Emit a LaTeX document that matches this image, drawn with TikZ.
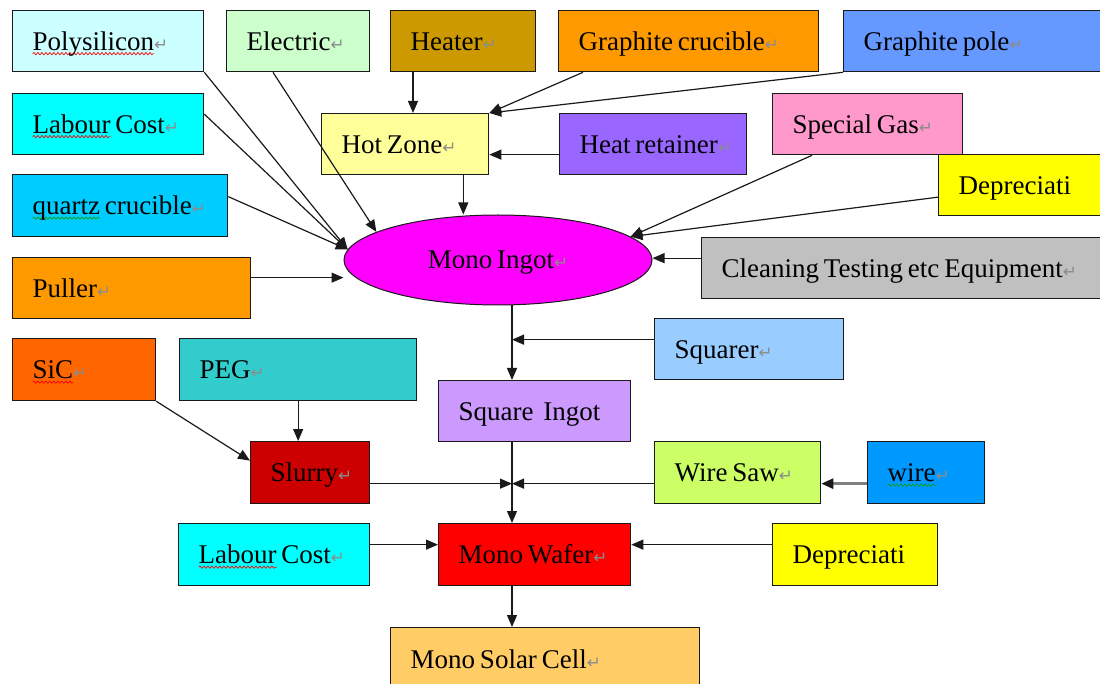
\documentclass[tikz,border=0pt]{standalone}
\usepackage{fontspec}
\setmainfont{Liberation Serif}[WordSpace=0.7]
\newfontfamily\retfont{DejaVu Sans}[Scale=0.62]
\usetikzlibrary{arrows.meta,shapes.geometric,decorations.pathmorphing}
\definecolor{bordc}{HTML}{1A1A1A}
\definecolor{retgray}{HTML}{8C8C8C}
\definecolor{wgreen}{HTML}{10A010}
\definecolor{cPoly}{HTML}{CCFFFF}
\definecolor{cElec}{HTML}{CCFFCC}
\definecolor{cHeater}{HTML}{CC9900}
\definecolor{cOrange}{HTML}{FF9900}
\definecolor{cPole}{HTML}{6699FF}
\definecolor{cCyan}{HTML}{00FFFF}
\definecolor{cHot}{HTML}{FFFF99}
\definecolor{cRet}{HTML}{9966FF}
\definecolor{cGas}{HTML}{FF99CC}
\definecolor{cQuartz}{HTML}{00CCFF}
\definecolor{cYel}{HTML}{FFFF00}
\definecolor{cMag}{HTML}{FF00FF}
\definecolor{cGray}{HTML}{C0C0C0}
\definecolor{cSiC}{HTML}{FF6600}
\definecolor{cPEG}{HTML}{33CCCC}
\definecolor{cSquarer}{HTML}{99CCFF}
\definecolor{cSqi}{HTML}{CC99FF}
\definecolor{cSlurry}{HTML}{CC0000}
\definecolor{cWsaw}{HTML}{CCFF66}
\definecolor{cWire}{HTML}{0099FF}
\definecolor{cWafer}{HTML}{FF0000}
\definecolor{cCell}{HTML}{FFCC66}
\newlength\wvylen
\newcommand\parmk{{\retfont\textcolor{retgray}{\char"21B5}}}
\newcommand\wvy[2]{\settowidth\wvylen{#2}\rlap{\tikz[overlay]\draw[wavyline,#1] (0pt,-3.5pt) -- (\wvylen,-3.5pt);}#2}
\tikzset{
  wavyline/.style={decorate, decoration={snake, amplitude=1.1pt, segment length=4pt}, line width=0.7pt},
  box/.style={draw=bordc, line width=1.3pt, anchor=north west, inner xsep=20pt, inner ysep=0pt,
    text height=18pt, text depth=0pt, minimum height=61pt,
    font=\fontsize{27}{32}\selectfont, text=black,
    execute at begin node={\spaceskip=0.18em\xspaceskip=0.18em\relax\hbox\bgroup}, execute at end node={\egroup}},
  arr/.style={line width=1.2pt, draw=bordc, -{Triangle[length=12pt,width=10pt]}},
  arrg/.style={line width=2.6pt, draw=gray, -{Triangle[length=12pt,width=10pt,fill=bordc,color=bordc]}}
}
\begin{document}
\begin{tikzpicture}[x=1pt,y=-1pt]
\useasboundingbox (0,0) rectangle (1100,684);
\clip (0,0) rectangle (1100,684);
\fill[white] (0,0) rectangle (1100,684);
% boxes
\node[box, fill=cPoly, text width=151pt] (poly) at (12,10) {\wvy{red}{Polysilicon}\parmk};
\node[box, fill=cElec, text width=103pt] (elec) at (226,10) {Electric\parmk};
\node[box, fill=cHeater, text width=105pt] (heater) at (390,10) {Heater\parmk};
\node[box, fill=cOrange, text width=220pt] (gcru) at (558,10) {Graphite crucible\parmk};
\node[box, fill=cPole, text width=230pt] (gpole) at (843,10) {Graphite pole\parmk};
\node[box, fill=cCyan, text width=151pt] (lab1) at (12,93) {\wvy{red}{Labour}~Cost\parmk};
\node[box, fill=cHot, text width=127pt] (hot) at (321,113) {Hot Zone\parmk};
\node[box, fill=cRet, text width=147pt] (hret) at (559,113) {Heat retainer\parmk};
\node[box, fill=cGas, text width=150pt] (gas) at (772,93) {Special Gas\parmk};
\node[box, fill=cQuartz, text width=175pt, minimum height=62pt] (quartz) at (12,174) {\wvy{wgreen}{quartz}~crucible\parmk};
\node[box, fill=cYel, text width=132pt] (dep1) at (938,154) {Depreciati};
\node[ellipse, draw=bordc, line width=1pt, fill=cMag, minimum width=308pt, minimum height=90pt, inner sep=0pt,
  text height=18pt, text depth=0pt, font=\fontsize{27}{32}\selectfont] (ingot) at (498,260) {Mono Ingot\parmk};
\node[box, fill=cGray, text width=369pt] (clean) at (701,237) {Cleaning Testing etc Equipment\parmk};
\node[box, fill=cOrange, text width=198pt] (puller) at (12,257) {Puller\parmk};
\node[box, fill=cSiC, text width=103pt, minimum height=62pt] (sic) at (12,338) {\wvy{red}{SiC}\parmk};
\node[box, fill=cPEG, text width=197pt, minimum height=62pt] (peg) at (179,338) {PEG\parmk};
\node[box, fill=cSquarer, text width=149pt] (squarer) at (654,318) {Squarer\parmk};
\node[box, fill=cSqi, text width=152pt] (sqi) at (438,380) {Square~ Ingot};
\node[box, fill=cSlurry, text width=79pt, minimum height=62pt] (slurry) at (250,441) {Slurry\parmk};
\node[box, fill=cWsaw, text width=126pt, minimum height=62pt] (wsaw) at (654,441) {Wire Saw\parmk};
\node[box, fill=cWire, text width=77pt, minimum height=62pt] (wire) at (867,441) {\wvy{wgreen}{wire}\parmk};
\node[box, fill=cCyan, text width=151pt, minimum height=62pt] (lab2) at (178,523) {\wvy{red}{Labour}~Cost\parmk};
\node[box, fill=cWafer, text width=152pt, minimum height=62pt] (wafer) at (438,523) {Mono Wafer\parmk};
\node[box, fill=cYel, text width=125pt, minimum height=62pt] (dep2) at (772,523) {Depreciati};
\node[box, fill=cCell, text width=269pt, minimum height=64pt] (cell) at (390,627) {Mono Solar Cell\parmk};
% spine
\coordinate (sp) at (512,0);
% connectors
\draw[arr] (poly.south east) -- (ingot.176);
\draw[arr] ([yshift=10pt]lab1.east) -- (ingot.176);
\draw[arr] ([yshift=9pt]quartz.east) -- (ingot.176);
\draw[arr] ([xshift=47pt]elec.south west) -- (ingot.167);
\draw[arr] ([yshift=10.5pt]puller.east) -- ([yshift=10.5pt]puller.east -| ingot.west);
\draw[arr] ([xshift=23pt]heater.south west) -- ([xshift=23pt]heater.south west |- hot.north);
\draw[arr] ([xshift=25pt]gcru.south west) -- (hot.north east);
\draw[arr] (gpole.south west) -- (hot.north east);
\draw[arr] ([yshift=-10.5pt]hret.west) -- ([yshift=-10.5pt]hret.west -| hot.east);
\draw[arr] ([xshift=-26pt]hot.south east) -- ([xshift=-26pt]hot.south east |- ingot.north);
\draw[arr] ([xshift=40pt]gas.south west) -- (ingot.10);
\draw[arr] ([yshift=-12pt]dep1.west) -- (ingot.10);
\draw[arr] ([yshift=10pt]clean.west) -- ([yshift=10pt]clean.west -| ingot.east);
\draw[arr] (sp |- ingot.south) -- (sp |- sqi.north);
\draw[arr] ([yshift=9.5pt]squarer.west) -- ([yshift=9.5pt]squarer.west -| sp);
\draw[arr] (sp |- sqi.south) -- (sp |- wafer.north);
\draw[arr] ([yshift=-11pt]slurry.east) -- ([yshift=-11pt]slurry.east -| sp);
\draw[arr] ([yshift=-11pt]wsaw.west) -- ([yshift=-11pt]wsaw.west -| sp);
\draw[arrg] ([yshift=-11pt]wire.west) -- ([yshift=-11pt]wire.west -| wsaw.east);
\draw[arr] (peg.south) -- (peg.south |- slurry.north);
\draw[arr] (sic.south east) -- ([yshift=12pt]slurry.west);
\draw[arr] ([yshift=10pt]lab2.east) -- ([yshift=10pt]lab2.east -| wafer.west);
\draw[arr] ([yshift=10pt]dep2.west) -- ([yshift=10pt]dep2.west -| wafer.east);
\draw[arr] (sp |- wafer.south) -- (sp |- cell.north);
\end{tikzpicture}
\end{document}
